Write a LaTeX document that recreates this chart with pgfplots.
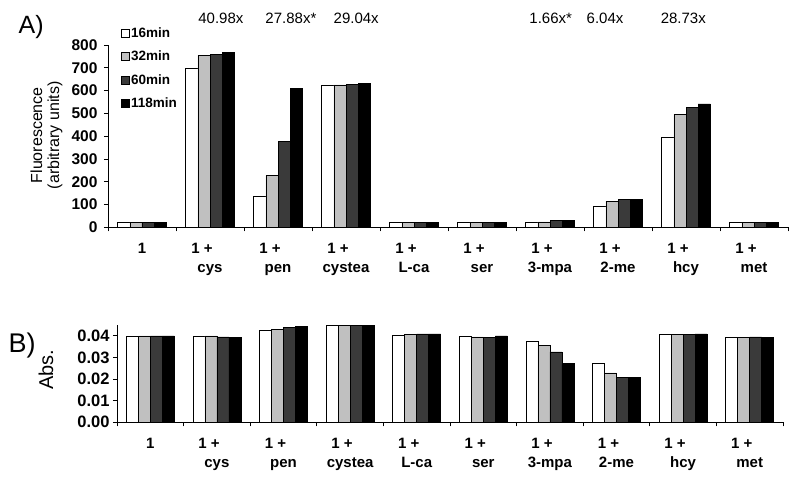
\documentclass[border=0pt]{standalone}
\usepackage{fontspec}
\setmainfont{Liberation Sans}
\usepackage{pgfplots}
\pgfplotsset{compat=1.18}

\definecolor{lgray}{RGB}{192,192,192}
\definecolor{dgray}{RGB}{58,58,58}

\tikzset{ann/.style={font=\fontsize{15}{17}\selectfont}}

\pgfplotsset{
  panel/.style={
    scale only axis,
    ybar=0pt, bar width=0.18,
    xmin=-0.5, xmax=9.5, ymin=0,
    enlargelimits=false,
    axis lines=left, axis line style={-, line width=0.8pt},
    tick align=outside, major tick length=4pt,
    tick style={line width=0.8pt, black},
    xtick={-0.5,0.5,...,9.5},
    xticklabels={1, {1 +\makebox[16pt]{}\\cys}, {1 +\makebox[16pt]{}\\pen},
      {1 +\makebox[16pt]{}\\cystea}, {1 +\makebox[16pt]{}\\L-ca},
      {1 +\makebox[16pt]{}\\ser}, {1 +\makebox[16pt]{}\\3-mpa},
      {1 +\makebox[16pt]{}\\2-me}, {1 +\makebox[16pt]{}\\hcy},
      {1 +\makebox[16pt]{}\\met}, {}},
    xticklabel style={font=\fontsize{15}{19}\selectfont\bfseries, align=center,
      anchor=north, yshift=-8pt},
    /pgf/number format/assume math mode=true,
    ylabel style={font=\fontsize{16}{17}\selectfont, align=center},
    clip=false,
    legend image code/.code={\draw[#1, line width=0.5pt] (0pt,-4pt) rectangle (8pt,4pt);},
  },
  s1/.style={draw=black, fill=white, line width=0.5pt},
  s2/.style={draw=black, fill=lgray, line width=0.5pt},
  s3/.style={draw=black, fill=dgray, line width=0.5pt},
  s4/.style={draw=black, fill=black, line width=0.5pt},
}

\begin{document}
\begin{tikzpicture}
\path[use as bounding box] (0,0) rectangle (800pt,482pt);

% A) fluorescence
\begin{axis}[
  panel,
  at={(108pt,254.7pt)}, anchor=south west,
  width=680pt, height=182.3pt,
  ymax=800, ytick={0,100,...,800},
  yticklabel style={font=\fontsize{15.5}{17}\selectfont\bfseries, xshift=-3pt},
  xticklabel style={xshift=34pt},
  ylabel={Fluorescence\\(arbitrary units)},
  ylabel style={at={(axis description cs:-0.0904,0.505)}, anchor=center, rotate=0},
  legend style={draw=none, fill=none, at={(rel axis cs:0,1)}, anchor=north west,
    xshift=13pt, yshift=19pt, font=\fontsize{13.5}{15}\selectfont\bfseries,
    row sep=9pt, inner sep=0pt, nodes={inner sep=1.5pt}},
  legend cell align=left,
]
\addplot[s1] coordinates {(0,21) (1,700) (2,137) (3,625) (4,21) (5,21) (6,24) (7,91) (8,394) (9,24)};
\addplot[s2] coordinates {(0,21) (1,755) (2,228) (3,625) (4,21) (5,21) (6,24) (7,115) (8,496) (9,21)};
\addplot[s3] coordinates {(0,21) (1,760) (2,378) (3,628) (4,21) (5,21) (6,29) (7,123) (8,527) (9,21)};
\addplot[s4] coordinates {(0,21) (1,767) (2,609) (3,632) (4,21) (5,21) (6,29) (7,123) (8,542) (9,21)};
\legend{16min, 32min, 60min, 118min}
\node[ann] at (axis cs:1.16,918) {40.98x};
\node[ann] at (axis cs:2.19,918) {27.88x*};
\node[ann] at (axis cs:3.15,918) {29.04x};
\node[ann] at (axis cs:6.01,918) {1.66x*};
\node[ann] at (axis cs:6.81,918) {6.04x};
\node[ann] at (axis cs:7.96,918) {28.73x};
\node[font=\fontsize{25}{28}\selectfont] at (axis description cs:-0.113,1.099) {A)};
\end{axis}

% B) absorbance
\begin{axis}[
  panel,
  at={(117pt,59.7pt)}, anchor=south west,
  width=666pt, height=97.3pt,
  ymax=0.045, ytick={0,0.01,0.02,0.03,0.04},
  scaled y ticks=false,
  yticklabel style={font=\fontsize{16.5}{18}\selectfont\bfseries,
    /pgf/number format/fixed, /pgf/number format/fixed zerofill,
    /pgf/number format/precision=2},
  xticklabel style={xshift=33.3pt},
  ylabel={Abs.},
  ylabel style={font=\fontsize{20}{22}\selectfont,
    at={(axis description cs:-0.1066,0.54)}, anchor=center, rotate=0},
]
\addplot[s1] coordinates {(0,0.0400) (1,0.0400) (2,0.0425) (3,0.0450) (4,0.0403) (5,0.0400) (6,0.0377) (7,0.0271) (8,0.0406) (9,0.0395)};
\addplot[s2] coordinates {(0,0.0400) (1,0.0400) (2,0.0429) (3,0.0450) (4,0.0408) (5,0.0395) (6,0.0355) (7,0.0229) (8,0.0406) (9,0.0394)};
\addplot[s3] coordinates {(0,0.0400) (1,0.0395) (2,0.0438) (3,0.0450) (4,0.0409) (5,0.0394) (6,0.0326) (7,0.0209) (8,0.0405) (9,0.0395)};
\addplot[s4] coordinates {(0,0.0400) (1,0.0394) (2,0.0445) (3,0.0450) (4,0.0409) (5,0.0400) (6,0.0271) (7,0.0209) (8,0.0409) (9,0.0392)};
\node[font=\fontsize{27}{30}\selectfont] at (axis description cs:-0.1426,0.794) {B)};
\end{axis}
\end{tikzpicture}
\end{document}
